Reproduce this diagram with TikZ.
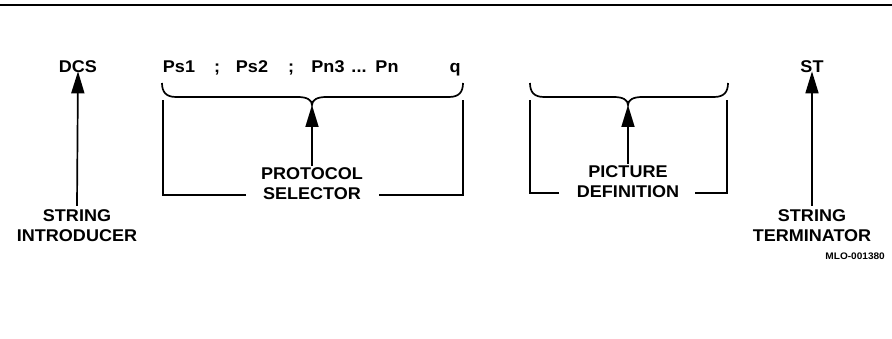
\documentclass[tikz,border=0pt]{standalone}
\usepackage{fontspec}
\setmainfont{Liberation Sans}[FakeStretch=1.06]
\usetikzlibrary{arrows.meta}
\tikzset{
  lbl/.style={font=\fontsize{17}{20}\selectfont\bfseries, inner sep=0pt, align=center},
  seq/.style={font=\fontsize{17}{20}\selectfont\bfseries, inner sep=0pt, anchor=base},
  tag/.style={font=\fontsize{9.5}{10}\selectfont\bfseries, inner sep=0pt},
  pointer/.style={line width=1.7pt, -{Triangle[length=22pt,width=13pt]}},
  bracketline/.style={line width=1.7pt},
  braceline/.style={line width=1.7pt},
}
\begin{document}
\begin{tikzpicture}[x=1pt,y=-1pt]
\useasboundingbox (0,0) rectangle (892,339);
% top rule
\coordinate (ruleL) at (0,5);
\coordinate (ruleR) at (892,5);
\draw[line width=2.4pt] (ruleL) -- (ruleR);

% top row
\node[seq] (dcs) at (78,73) {DCS};
\node[seq] (ps1) at (179,73) {Ps1};
\node[seq] (sc1) at (217,73) {;};
\node[seq] (ps2) at (252,73) {Ps2};
\node[seq] (sc2) at (291,73) {;};
\node[seq] (pn3) at (328,73) {Pn3};
\node[seq] (dots) at (359,73) {...};
\node[seq] (pn) at (387,73) {Pn};
\node[seq] (q) at (455,73) {q};
\node[seq] (st) at (812,73) {ST};

% bottom labels
\node[lbl] (intro) at (77,226) {STRING\\INTRODUCER};
\node[lbl] (term) at (812,226) {STRING\\TERMINATOR};
\node[lbl] (psel) at (312,184) {PROTOCOL\\SELECTOR};
\node[lbl] (pdef) at (628,182) {PICTURE\\DEFINITION};
\node[tag, anchor=east] (mlo) at (885,256) {MLO-001380};

% side arrows
\draw[pointer] (intro.north) ++(0,-4) coordinate (introtop) (introtop) -- ([yshift=2pt]dcs.south);
\draw[pointer] (term.north) ++(0,-4) coordinate (termtop) (termtop) -- ([yshift=2pt]st.south);

% brace 1
\coordinate (cusp1) at (312,105);
\draw[braceline] (162,83) .. controls (162,92) and (166,97) .. (176,97) -- (298,97)
   .. controls (307,97) and (312,100) .. (cusp1)
   .. controls (312,100) and (317,97) .. (326,97) -- (449,97)
   .. controls (459,97) and (463,92) .. (463,83);
\draw[pointer] (psel.north) ++(0,-2) coordinate (pselTop) (pselTop) -- (cusp1);
% bracket 1
\coordinate (b1a) at (246,195);
\coordinate (b1b) at (379,195);
\draw[bracketline] (b1a) -- (163,195) -- (163,100);
\draw[bracketline] (b1b) -- (463,195) -- (463,100);

% brace 2
\coordinate (cusp2) at (628,105);
\draw[braceline] (530,83) .. controls (530,92) and (534,97) .. (544,97) -- (614,97)
   .. controls (623,97) and (628,100) .. (cusp2)
   .. controls (628,100) and (633,97) .. (642,97) -- (714,97)
   .. controls (724,97) and (728,92) .. (728,83);
\draw[pointer] (pdef.north) ++(0,-2) coordinate (pdefTop) (pdefTop) -- (cusp2);
% bracket 2
\coordinate (b2a) at (559,193);
\coordinate (b2b) at (695,193);
\draw[bracketline] (b2a) -- (530,193) -- (530,100);
\draw[bracketline] (b2b) -- (727,193) -- (727,100);
\end{tikzpicture}
\end{document}
